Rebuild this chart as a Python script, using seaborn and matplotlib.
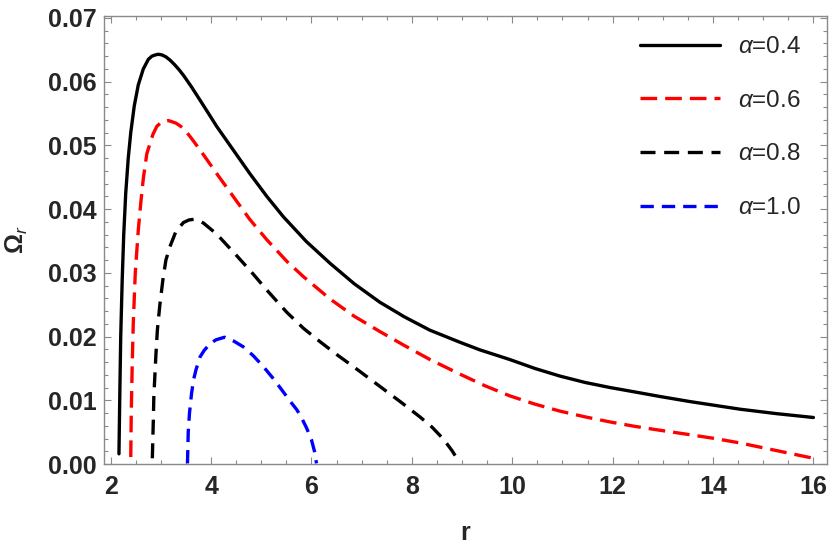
import matplotlib
matplotlib.use("Agg")
import matplotlib.pyplot as plt
import pandas as pd
import seaborn as sns
from matplotlib.ticker import FormatStrFormatter, MultipleLocator

# values
r_04 = [2.165, 2.18, 2.20, 2.23, 2.26, 2.30, 2.35, 2.40, 2.47, 2.55, 2.65, 2.75,
        2.82, 2.89, 2.95, 3.02, 3.10, 3.18, 3.27, 3.36, 3.45, 3.60, 3.78, 3.95,
        4.11, 4.44, 4.77, 5.11, 5.44, 5.90, 6.37, 6.85, 7.36, 7.85, 8.36, 8.96,
        9.36, 9.95, 10.45, 10.95, 11.45, 11.95, 12.45, 12.94, 13.54, 14.04,
        14.54, 15.27, 16.0]
omega_04 = [0.0016, 0.0100, 0.0200, 0.0290, 0.0360, 0.0425, 0.0480, 0.0520,
            0.0562, 0.0595, 0.0620, 0.0635, 0.0640, 0.0642, 0.0643, 0.0642,
            0.0639, 0.0634, 0.0627, 0.0619, 0.0610, 0.0593, 0.0571, 0.0550,
            0.0530, 0.0493, 0.0456, 0.0420, 0.0388, 0.0349, 0.0315, 0.0283,
            0.0254, 0.0231, 0.0210, 0.0191, 0.0179, 0.0164, 0.0150, 0.0138,
            0.0128, 0.0120, 0.0113, 0.0106, 0.0098, 0.0092, 0.0086, 0.0079,
            0.0073]

r_06 = [2.40, 2.41, 2.43, 2.45, 2.49, 2.55, 2.60, 2.65, 2.72, 2.78, 2.84, 2.92,
        3.02, 3.15, 3.30, 3.45, 3.60, 3.78, 4.11, 4.44, 4.77, 5.11, 5.51, 5.84,
        6.37, 6.85, 7.36, 7.85, 8.36, 8.96, 9.45, 9.95, 10.45, 10.95, 11.45,
        11.95, 12.45, 12.94, 13.54, 14.04, 14.54, 15.27, 16.0]
omega_06 = [0.0011, 0.0080, 0.0160, 0.0220, 0.0300, 0.0367, 0.0410, 0.0448,
            0.0487, 0.0502, 0.0517, 0.0530, 0.0537, 0.0539, 0.0535, 0.0527,
            0.0512, 0.0493, 0.0456, 0.0420, 0.0384, 0.0352, 0.0318, 0.0294,
            0.0259, 0.0232, 0.0208, 0.0186, 0.0164, 0.0141, 0.0123, 0.0107,
            0.0094, 0.0083, 0.0074, 0.0066, 0.0059, 0.0053, 0.0046, 0.0040,
            0.0033, 0.0021, 0.0009]

r_08 = [2.83, 2.85, 2.86, 2.90, 2.93, 2.98, 3.04, 3.10, 3.18, 3.30, 3.45, 3.56,
        3.66, 3.76, 3.85, 4.11, 4.51, 4.84, 5.11, 5.51, 5.84, 6.17, 6.50, 6.85,
        7.36, 7.80, 8.16, 8.40, 8.63, 8.80, 8.92]
omega_08 = [0.0009, 0.0070, 0.0106, 0.0170, 0.0210, 0.0250, 0.0289, 0.0320,
            0.0341, 0.0365, 0.0379, 0.0383, 0.0384, 0.0382, 0.0378, 0.0361,
            0.0327, 0.0298, 0.0273, 0.0238, 0.0213, 0.0192, 0.0172, 0.0152,
            0.0122, 0.0096, 0.0074, 0.0058, 0.0039, 0.0021, 0.0006]

r_10 = [3.53, 3.545, 3.57, 3.61, 3.65, 3.70, 3.78, 3.86, 3.98, 4.10, 4.27, 4.45,
        4.64, 4.84, 5.04, 5.24, 5.44, 5.60, 5.71, 5.80, 5.90, 6.00, 6.06, 6.10]
omega_10 = [0.0001, 0.0050, 0.0080, 0.0110, 0.0132, 0.0148, 0.0168, 0.0178,
            0.0189, 0.0195, 0.0199, 0.0193, 0.0184, 0.0170, 0.0153, 0.0134,
            0.0113, 0.0096, 0.0085, 0.0073, 0.0057, 0.0038, 0.0020, 0.0001]

labels = [r"$\alpha$=0.4", r"$\alpha$=0.6", r"$\alpha$=0.8", r"$\alpha$=1.0"]
colors = ["black", "#ff0000", "black", "#0000ff"]
styles = ["-", (0, (5.0, 2.4)), (0, (4.5, 2.6)), (0, (4.0, 2.4))]

sns.set_style("ticks")
plt.rcParams["font.family"] = ["Liberation Sans", "DejaVu Sans"]
plt.rcParams["mathtext.fontset"] = "custom"
plt.rcParams["mathtext.rm"] = "Liberation Sans"
plt.rcParams["mathtext.it"] = "Liberation Sans:italic"
plt.rcParams["mathtext.bf"] = "Liberation Sans:bold"

series = [(r_04, omega_04), (r_06, omega_06), (r_08, omega_08), (r_10, omega_10)]
frames = []
for (r, om), lab in zip(series, labels):
    frames.append(pd.DataFrame({"r": r, "omega": om, "alpha": lab}))
df = pd.concat(frames, ignore_index=True)

fig = plt.figure(figsize=(8.34, 5.53), dpi=100)
ax = fig.add_axes([0.1247, 0.1609, 0.8669, 0.8101])

for lab, col, ls in zip(labels, colors, styles):
    sub = df[df["alpha"] == lab]
    sns.lineplot(data=sub, x="r", y="omega", color=col, linestyle=ls,
                 linewidth=2.4, sort=False, estimator=None, label=lab, ax=ax)

ax.set_xlim(1.867, 16.27)
ax.set_ylim(0, 0.0703)
ax.xaxis.set_major_locator(MultipleLocator(2))
ax.xaxis.set_minor_locator(MultipleLocator(0.5))
ax.yaxis.set_major_locator(MultipleLocator(0.01))
ax.yaxis.set_minor_locator(MultipleLocator(0.002))
ax.yaxis.set_major_formatter(FormatStrFormatter("%.2f"))

frame_col = "#8a8a8a"
for sp in ax.spines.values():
    sp.set_color(frame_col)
    sp.set_linewidth(1.0)
ax.tick_params(which="both", direction="in", top=True, right=True,
               color=frame_col, width=0.8)
ax.tick_params(which="major", length=5)
ax.tick_params(which="minor", length=3)
ax.tick_params(axis="x", which="major", pad=8)
ax.tick_params(axis="y", which="major", pad=5)
for t in ax.get_xticklabels() + ax.get_yticklabels():
    t.set_fontsize(18)
    t.set_fontweight("bold")

ax.set_xlabel("r", fontsize=18, fontweight="bold")
ax.set_ylabel(r"$\mathbf{\Omega}_{\mathit{r}}$", fontsize=18)
ax.xaxis.set_label_coords(0.5, -0.128)
ax.yaxis.set_label_coords(-0.102, 0.5)

ax.legend(loc="upper left", bbox_to_anchor=(0.741, 0.955), frameon=False,
          fontsize=17.5, handlelength=3.3, handletextpad=0.75, labelspacing=1.3,
          borderpad=0, borderaxespad=0)

fig.savefig("out.png", dpi=100)
